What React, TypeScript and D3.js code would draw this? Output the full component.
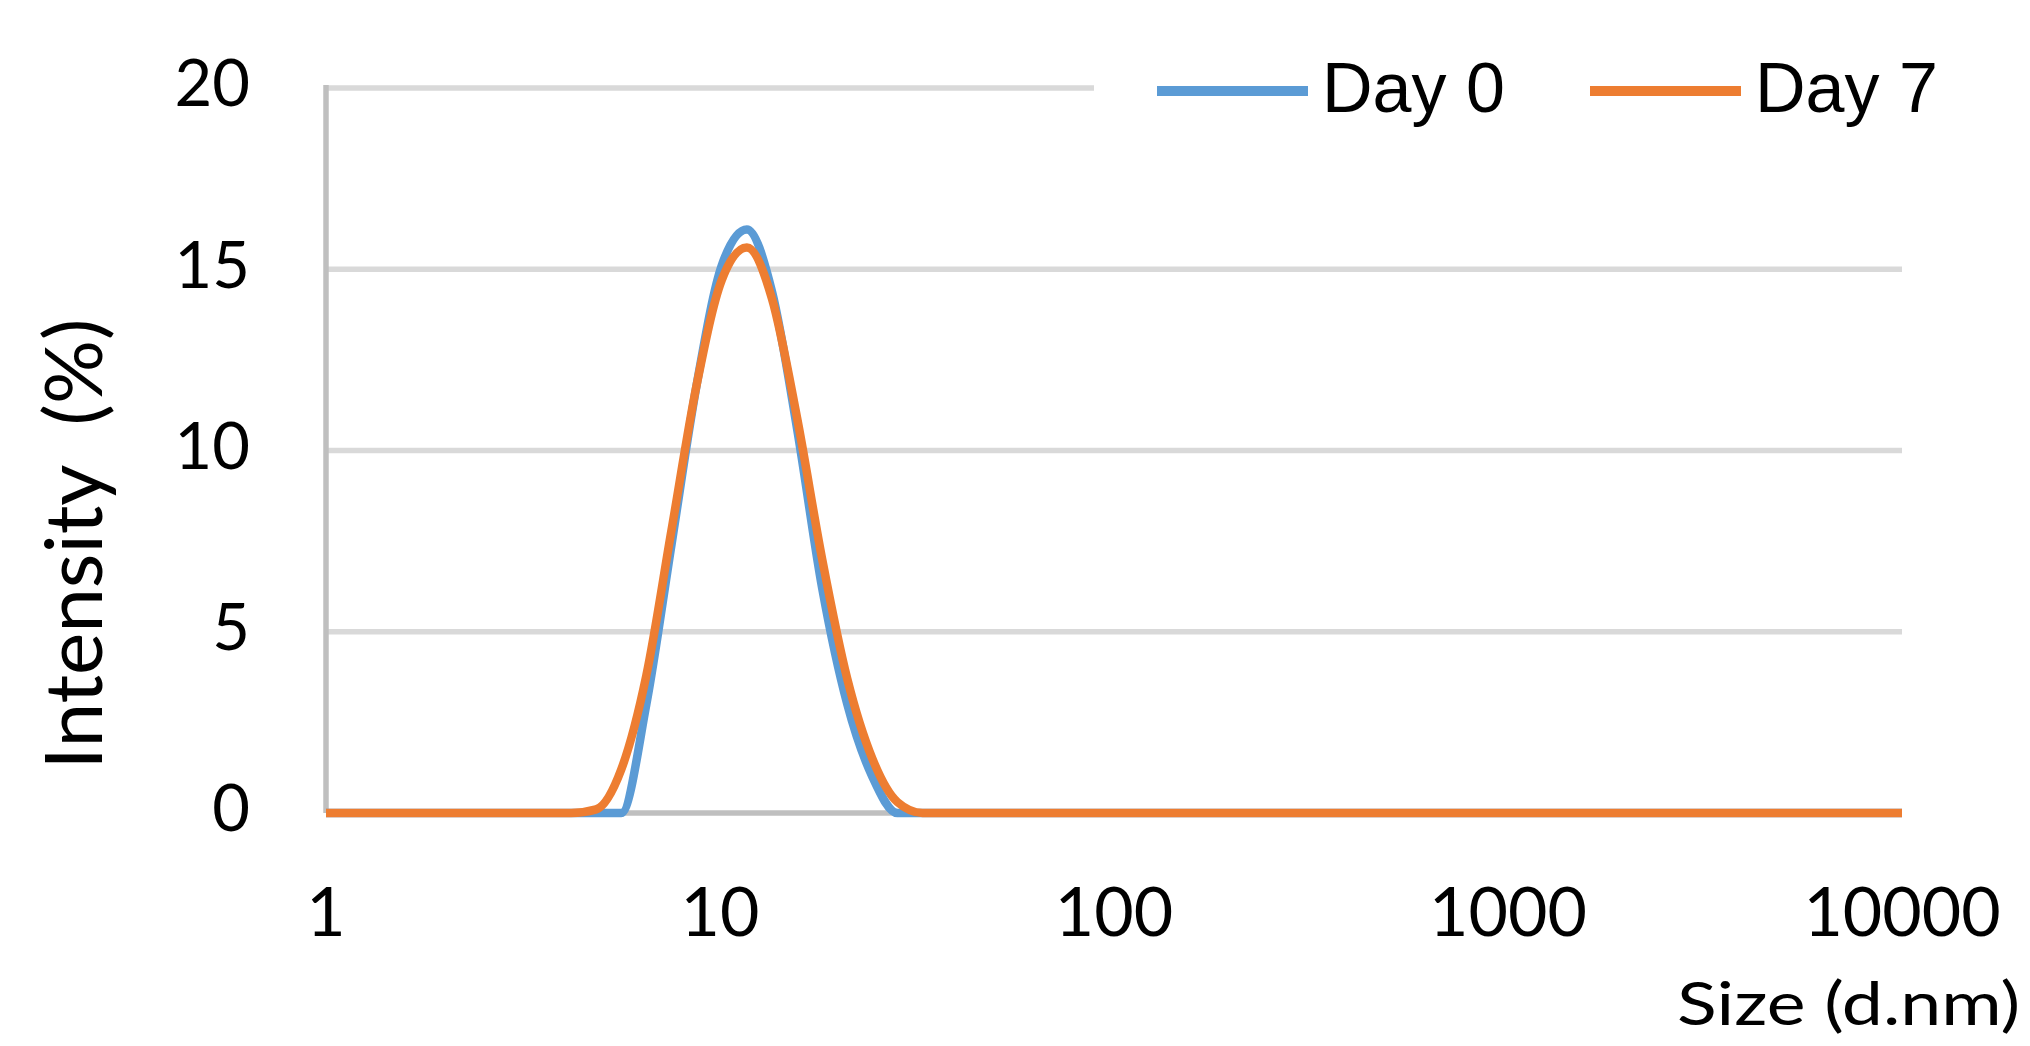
import React, { useRef, useEffect } from 'react'
import * as d3 from 'd3'

// size bins (d.nm), log spaced like the instrument export
const sizes = [
  0.9649, 1.117, 1.294, 1.499, 1.736, 2.01, 2.328, 2.696, 3.122, 3.615, 4.187, 4.849,
  5.615, 6.503, 7.531, 8.721, 10.1, 11.7, 13.54, 15.69, 18.17, 21.04, 24.36, 28.21,
  32.67, 37.84, 43.82, 50.75, 58.77, 68.06, 78.82, 91.28, 105.7, 122.4, 141.8, 164.2,
  190.1, 220.2, 255, 295.3, 342, 396.1, 458.7, 531.2, 615.1, 712.4, 825, 955.4, 1106,
  1281, 1484, 1718, 1990, 2305, 2669, 3091, 3580, 4145, 4801, 5560, 6439, 7456, 8635, 10000,
]

const day0 = [
  0, 0, 0, 0, 0, 0, 0, 0, 0, 0, 0, 0,
  0, 3.0, 7.4, 11.8, 15.1, 16.1, 14.4, 10.6, 6.2, 3.0, 1.0, 0,
  0, 0, 0, 0, 0, 0, 0, 0, 0, 0, 0, 0,
  0, 0, 0, 0, 0, 0, 0, 0, 0, 0, 0, 0, 0,
  0, 0, 0, 0, 0, 0, 0, 0, 0, 0, 0, 0, 0, 0, 0,
]

const day7 = [
  0, 0, 0, 0, 0, 0, 0, 0, 0, 0, 0, 0.1,
  1.2, 3.8, 7.8, 11.8, 14.7, 15.6, 14.2, 10.9, 7.0, 3.7, 1.5, 0.3,
  0, 0, 0, 0, 0, 0, 0, 0, 0, 0, 0, 0,
  0, 0, 0, 0, 0, 0, 0, 0, 0, 0, 0, 0, 0,
  0, 0, 0, 0, 0, 0, 0, 0, 0, 0, 0, 0, 0, 0, 0,
]

const seriesNames = ['Day 0', 'Day 7']
const seriesColors = ['#5B9BD5', '#ED7D31']
const xTicks = [1, 10, 100, 1000, 10000]
const yTicks = [0, 5, 10, 15, 20]

const W = 2030
const H = 1046
const font = 'Lato, Carlito, Calibri, sans-serif'
const legendFont = '"Liberation Sans", Arial, sans-serif'

export default function App() {
  const ref = useRef(null)

  useEffect(() => {
    const svg = d3.select(ref.current)
    svg.selectAll('*').remove()

    const margin = { top: 88, right: 128, bottom: 233, left: 326 }
    const width = W - margin.left - margin.right
    const height = H - margin.top - margin.bottom

    const x = d3.scaleLog().domain([1, 10000]).range([0, width])
    const y = d3.scaleLinear().domain([0, 20]).range([height, 0])

    svg.append('defs').append('clipPath').attr('id', 'plotclip')
      .append('rect').attr('x', 0).attr('y', -20).attr('width', width).attr('height', height + 40)

    const g = svg.append('g').attr('transform', `translate(${margin.left},${margin.top})`)

    // gridlines
    g.append('g')
      .selectAll('line')
      .data(yTicks.filter(d => d > 0))
      .enter()
      .append('line')
      .attr('x1', 0)
      .attr('x2', width)
      .attr('y1', d => y(d))
      .attr('y2', d => y(d))
      .attr('stroke', '#D9D9D9')
      .attr('stroke-width', 5.5)

    // axis lines
    g.append('line')
      .attr('x1', 0).attr('x2', width)
      .attr('y1', y(0)).attr('y2', y(0))
      .attr('stroke', '#BFBFBF').attr('stroke-width', 5.5)
    g.append('line')
      .attr('x1', 0).attr('x2', 0)
      .attr('y1', y(20) - 3).attr('y2', y(0))
      .attr('stroke', '#BFBFBF').attr('stroke-width', 5.5)

    // tick labels
    g.append('g')
      .selectAll('text')
      .data(yTicks)
      .enter()
      .append('text')
      .attr('x', -76)
      .attr('y', d => y(d) + 2)
      .attr('text-anchor', 'end')
      .attr('dominant-baseline', 'middle')
      .style('font-family', font)
      .style('font-size', '65px')
      .text(d => d)

    g.append('g')
      .selectAll('text')
      .data(xTicks)
      .enter()
      .append('text')
      .attr('x', d => x(d))
      .attr('y', height + 106)
      .attr('text-anchor', 'middle')
      .attr('dominant-baseline', 'middle')
      .style('font-family', font)
      .style('font-size', '68px')
      .text(d => d)

    // axis titles
    svg.append('text')
      .attr('transform', `translate(102,544) rotate(-90)`)
      .attr('text-anchor', 'middle')
      .style('font-family', font)
      .style('font-size', '80px')
      .style('white-space', 'pre')
      .text('Intensity  (%)')

    // x title is drawn wide in the original
    svg.append('text')
      .attr('x', 1677)
      .attr('y', 1025)
      .attr('textLength', 343)
      .attr('lengthAdjust', 'spacingAndGlyphs')
      .style('font-family', font)
      .style('font-size', '60px')
      .text('Size (d.nm)')

    // series lines
    const line = d3.line()
      .x(d => x(d[0]))
      .y(d => y(d[1]))
      .curve(d3.curveMonotoneX)

    const series = [day0, day7]
    const lines = g.append('g').attr('clip-path', 'url(#plotclip)')
    series.forEach((vals, i) => {
      lines.append('path')
        .datum(sizes.map((s, j) => [s, vals[j]]))
        .attr('fill', 'none')
        .attr('stroke', seriesColors[i])
        .attr('stroke-width', 8.5)
        .attr('stroke-linejoin', 'round')
        .attr('d', line)
    })

    // legend, white box covers the top gridline
    const legend = svg.append('g')
    legend.append('rect')
      .attr('x', 1094).attr('y', 40)
      .attr('width', W - 1094).attr('height', 100)
      .attr('fill', '#fff')
    const legendX = [1157, 1590]
    seriesNames.forEach((name, i) => {
      legend.append('line')
        .attr('x1', legendX[i]).attr('x2', legendX[i] + 151)
        .attr('y1', 91).attr('y2', 91)
        .attr('stroke', seriesColors[i])
        .attr('stroke-width', 10)
      legend.append('text')
        .attr('x', legendX[i] + 165)
        .attr('y', 112)
        .style('font-family', legendFont)
        .style('font-size', '70px')
        .text(name)
    })
  }, [])

  return (
    <svg
      ref={ref}
      width={W}
      height={H}
      style={{ position: 'absolute', left: 0, top: 0, background: '#fff' }}
    />
  )
}
